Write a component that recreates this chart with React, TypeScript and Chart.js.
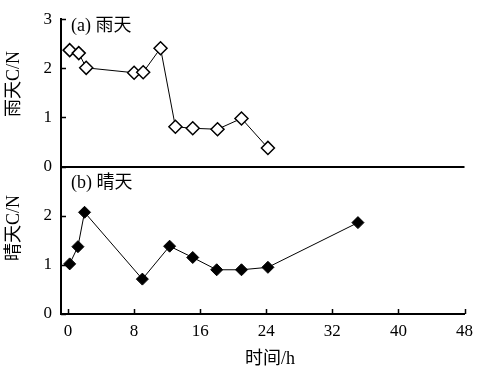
import React, { useEffect, useRef } from "react";
import { Chart, registerables } from "chart.js";

Chart.register(...registerables);

const rainX = [0.2, 1.3, 2.2, 8.0, 9.1, 11.2, 13.0, 15.1, 18.1, 21.0, 24.2];
const rainY = [2.37, 2.31, 2.01, 1.91, 1.92, 2.41, 0.81, 0.78, 0.76, 0.98, 0.38];
const sunX = [0.2, 1.2, 2.0, 9.0, 12.3, 15.1, 18.0, 21.0, 24.2, 35.1];
const sunY = [1.02, 1.37, 2.07, 0.71, 1.38, 1.15, 0.9, 0.9, 0.95, 1.86];
const xTicks = [0, 8, 16, 24, 32, 40, 48];
const rainTicks = [0, 1, 2, 3];
const sunTicks = [0, 1, 2];
const panelLabels = ["(a) 雨天", "(b) 晴天"];
const xTitle = "时间/h";
const rainTitle = "雨天C/N";
const sunTitle = "晴天C/N";

const FONT = '"Liberation Serif", "Noto Sans CJK SC", serif';

const decor = {
  id: "decor",
  afterDraw(chart: any) {
    const ctx = chart.ctx;
    const x = chart.scales.x;
    const yA = chart.scales.yA;
    const yB = chart.scales.yB;
    const area = chart.chartArea;
    ctx.save();
    ctx.strokeStyle = "#000";
    ctx.lineWidth = 1.5;
    ctx.beginPath();
    for (const v of xTicks) {
      const px = Math.round(x.getPixelForValue(v)) + 0.5;
      ctx.moveTo(px, area.bottom);
      ctx.lineTo(px, area.bottom - 5);
    }
    for (const v of rainTicks) {
      const py = Math.round(yA.getPixelForValue(v)) + 0.5;
      ctx.moveTo(area.left, py);
      ctx.lineTo(area.left + 5, py);
    }
    for (const v of sunTicks) {
      const py = Math.round(yB.getPixelForValue(v)) + 0.5;
      ctx.moveTo(area.left, py);
      ctx.lineTo(area.left + 5, py);
    }
    ctx.stroke();
    ctx.lineWidth = 2;
    ctx.beginPath();
    const sy = Math.round(yA.getPixelForValue(0));
    ctx.moveTo(area.left, sy);
    ctx.lineTo(area.right, sy);
    ctx.stroke();
    ctx.fillStyle = "#000";
    ctx.font = "18px " + FONT;
    ctx.textBaseline = "middle";
    ctx.textAlign = "left";
    ctx.fillText(panelLabels[0], 71, 26);
    ctx.fillText(panelLabels[1], 71, 183);
    ctx.textAlign = "center";
    ctx.fillText(xTitle, 270, 359);
    ctx.save();
    ctx.translate(14, 84);
    ctx.rotate(-Math.PI / 2);
    ctx.fillText(rainTitle, 0, 0);
    ctx.restore();
    ctx.save();
    ctx.translate(14, 228);
    ctx.rotate(-Math.PI / 2);
    ctx.fillText(sunTitle, 0, 0);
    ctx.restore();
    ctx.restore();
  },
};

export default function App() {
  const ref = useRef<HTMLCanvasElement>(null);
  useEffect(() => {
    if (!ref.current) return;
    const chart = new Chart(ref.current, {
      type: "scatter",
      data: {
        datasets: [
          {
            data: rainX.map((v, i) => ({ x: v, y: rainY[i] })),
            yAxisID: "yA",
            showLine: true,
            borderColor: "#000",
            borderWidth: 1,
            pointStyle: "rectRot",
            pointRadius: 6.5,
            pointBackgroundColor: "#fff",
            pointBorderColor: "#000",
            pointBorderWidth: 1.5,
          },
          {
            data: sunX.map((v, i) => ({ x: v, y: sunY[i] })),
            yAxisID: "yB",
            showLine: true,
            borderColor: "#000",
            borderWidth: 1,
            pointStyle: "rectRot",
            pointRadius: 6,
            pointBackgroundColor: "#000",
            pointBorderColor: "#000",
            pointBorderWidth: 1,
          },
        ],
      },
      options: {
        responsive: false,
        animation: false,
        devicePixelRatio: 1,
        layout: { padding: { top: 13, right: 13, left: 0, bottom: 0 } },
        plugins: { legend: { display: false }, tooltip: { enabled: false } },
        scales: {
          x: {
            type: "linear",
            position: "bottom",
            min: -0.85,
            max: 48,
            afterBuildTicks: (s: any) => {
              s.ticks = xTicks.map((v) => ({ value: v }));
            },
            afterFit: (s: any) => {
              s.height = 61;
            },
            grid: { display: false, drawTicks: false },
            border: { display: true, color: "#000", width: 2 },
            ticks: { color: "#000", font: { family: FONT, size: 17 }, padding: 7, maxRotation: 0 },
            title: { display: false },
          },
          yA: {
            type: "linear",
            position: "left",
            stack: "panels",
            stackWeight: 1,
            weight: 2,
            min: 0,
            max: 3,
            afterBuildTicks: (s: any) => {
              s.ticks = rainTicks.map((v) => ({ value: v }));
            },
            afterFit: (s: any) => {
              s.width = 61;
            },
            grid: { display: false, drawTicks: false },
            border: { display: true, color: "#000", width: 2 },
            ticks: { color: "#000", font: { family: FONT, size: 17 }, padding: 9 },
            title: { display: false },
          },
          yB: {
            type: "linear",
            position: "left",
            stack: "panels",
            stackWeight: 1,
            weight: 1,
            min: 0,
            max: 3,
            afterBuildTicks: (s: any) => {
              s.ticks = sunTicks.map((v) => ({ value: v }));
            },
            afterFit: (s: any) => {
              s.width = 61;
            },
            grid: { display: false, drawTicks: false },
            border: { display: true, color: "#000", width: 2 },
            ticks: { color: "#000", font: { family: FONT, size: 17 }, padding: 9 },
            title: { display: false },
          },
        },
      },
      plugins: [decor],
    } as any);
    return () => chart.destroy();
  }, []);
  return (
    <div style={{ position: "fixed", left: 0, top: 0, width: 480, height: 375, background: "#fff" }}>
      <canvas ref={ref} width={480} height={375} />
    </div>
  );
}
